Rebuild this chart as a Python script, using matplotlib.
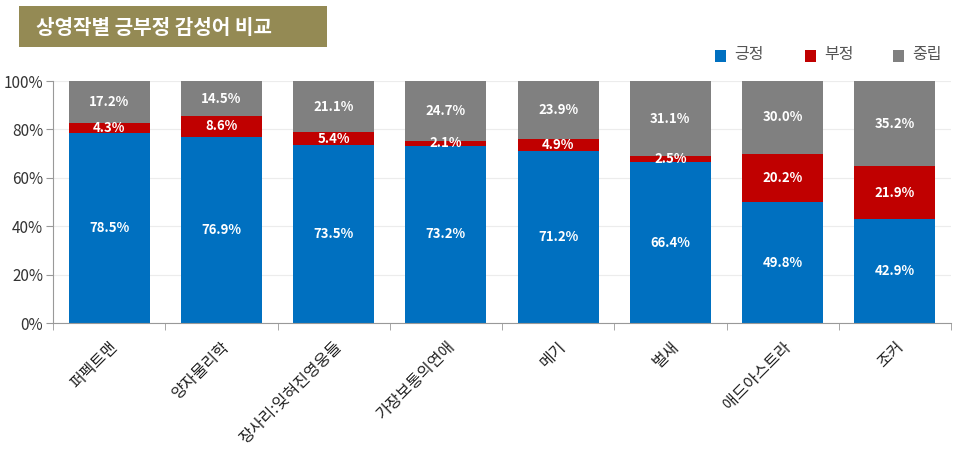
import matplotlib
matplotlib.use("Agg")
import matplotlib.pyplot as plt
import numpy as np
from matplotlib.patches import Rectangle

plt.rcParams['font.family'] = ['Noto Sans CJK KR', 'DejaVu Sans']

categories = ["퍼펙트맨", "양자물리학", "장사리:잊혀진영웅들", "가장보통의연애", "메기", "벌새", "애드아스트라", "조커"]
positive = [78.5, 76.9, 73.5, 73.2, 71.2, 66.4, 49.8, 42.9]
negative = [4.3, 8.6, 5.4, 2.1, 4.9, 2.5, 20.2, 21.9]
neutral = [17.2, 14.5, 21.1, 24.7, 23.9, 31.1, 30.0, 35.2]
series_names = ["긍정", "부정", "중립"]
yticks = [0, 20, 40, 60, 80, 100]
title = "상영작별 긍부정 감성어 비교"

colors = ["#0070C0", "#C00000", "#808080"]

fig = plt.figure(figsize=(9.6, 4.49), dpi=100)
ax = fig.add_axes([53/960, 1-323/449, (951-53)/960, (323-81)/449])

x = np.arange(len(categories))
bottom = np.zeros(len(categories))
for vals, c, name in zip([positive, negative, neutral], colors, series_names):
    vals = np.array(vals)
    ax.bar(x, vals, bottom=bottom, width=0.72, color=c, label=name, zorder=2)
    for xi, b, v in zip(x, bottom, vals):
        ax.text(xi, b + v/2, f"{v:.1f}%", ha='center', va='center', color='white',
                fontsize=9.5, fontweight='bold', zorder=3)
    bottom += vals

ax.set_xlim(-0.5, len(categories)-0.5)
ax.set_ylim(0, 100)
ax.set_yticks(yticks)
ax.set_yticklabels([f"{t}%" for t in yticks], fontsize=11, color='#333333')
ax.yaxis.grid(True, color='#ececec', linewidth=0.8, zorder=0)
ax.set_axisbelow(True)
ax.set_xticks(x)
ax.set_xticklabels(categories, rotation=45, ha='right', rotation_mode='anchor', fontsize=11.5, color='#222222')
ax.tick_params(axis='x', which='major', length=0, pad=11)
ax.set_xticks(np.arange(-0.5, len(categories), 1.0), minor=True)
ax.tick_params(axis='x', which='minor', length=5, color='#999999', direction='out')
ax.tick_params(axis='y', length=5, color='#999999', pad=2)
for s in ['top', 'right']:
    ax.spines[s].set_visible(False)
ax.spines['left'].set_color('#999999')
ax.spines['bottom'].set_color('#999999')

# title box
fig.patches.append(Rectangle((19/960, 1-47/449), (327-19)/960, 41/449, transform=fig.transFigure,
                             facecolor='#948A54', edgecolor='none'))
fig.text(36/960, 1-27/449, title, color='white', fontsize=14.5, fontweight='bold', va='center', ha='left')

# legend
leg_items = [(715, series_names[0], colors[0]), (805, series_names[1], colors[1]), (893, series_names[2], colors[2])]
for px, name, c in leg_items:
    fig.patches.append(Rectangle((px/960, 1-62/449), 11/960, 12/449, transform=fig.transFigure,
                                 facecolor=c, edgecolor='none'))
    fig.text((px+19)/960, 1-55/449, name, fontsize=11.5, color='#555555', va='center', ha='left')

fig.savefig("out.png", dpi=100)
